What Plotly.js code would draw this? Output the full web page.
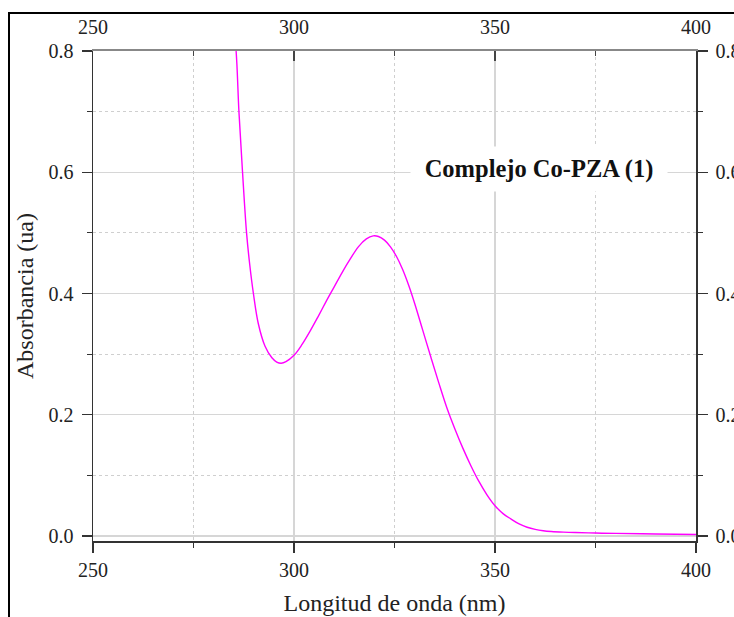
<!DOCTYPE html>
<html>
<head>
<meta charset="utf-8">
<script src="https://cdn.plot.ly/plotly-3.0.1.min.js"></script>
<style>
  html, body { margin: 0; padding: 0; background: #fff; }
  #chart { width: 734px; height: 617px; }
</style>
</head>
<body>
<div id="chart"></div>
<script>
// Wavelength (nm)
const wavelength = [284.8, 285.6, 286.3, 287.2, 288.2, 289.0, 289.9, 291.1, 292.8, 294.5, 295.7, 296.8, 298.0, 300.0, 302.0, 304.0, 306.0, 308.0, 310.0, 312.0, 314.0, 316.0, 318.0, 319.7, 321.0, 322.5, 324.0, 325.5, 327.0, 328.5, 330.0, 332.0, 334.0, 336.0, 338.0, 340.0, 342.0, 344.0, 346.0, 348.0, 350.0, 352.0, 354.0, 356.0, 358.0, 360.0, 362.0, 364.0, 367.0, 370.0, 375.0, 380.0, 390.0, 400.0];
// Absorbance (ua)
const absorbance = [0.85, 0.80, 0.70, 0.60, 0.50, 0.447, 0.40, 0.351, 0.313, 0.294, 0.287, 0.285, 0.2875, 0.298, 0.316, 0.338, 0.362, 0.387, 0.411, 0.435, 0.457, 0.477, 0.490, 0.495, 0.494, 0.488, 0.477, 0.461, 0.440, 0.414, 0.384, 0.340, 0.296, 0.253, 0.212, 0.177, 0.145, 0.116, 0.090, 0.068, 0.050, 0.037, 0.028, 0.020, 0.0145, 0.011, 0.0088, 0.0075, 0.0064, 0.0057, 0.0049, 0.0043, 0.0034, 0.0025];

const xTickVals = [250, 300, 350, 400];
const yTickVals = [0.0, 0.2, 0.4, 0.6, 0.8];
const yTickText = ["0.0", "0.2", "0.4", "0.6", "0.8"];
const xTitle = "Longitud de onda (nm)";
const yTitle = "Absorbancia (ua)";
const label = "Complejo Co-PZA (1)";

const W = 734, H = 617;
const M = {l: 93, r: 38, t: 51, b: 76};
const pw = W - M.l - M.r, ph = H - M.t - M.b;
const px = v => (v - M.l) / pw;
const py = v => (H - M.b - v) / ph;

const serif = '"Liberation Serif", "Times New Roman", serif';
const xRange = [250, 400];
const yRange = [-0.0082, 0.8];

const traces = [
  {x: wavelength, y: absorbance, type: 'scatter', mode: 'lines',
   line: {color: '#ff00ff', width: 1.4, shape: 'spline', smoothing: 1},
   hoverinfo: 'skip', showlegend: false},
  {x: wavelength, y: absorbance, xaxis: 'x2', yaxis: 'y', type: 'scatter', mode: 'lines',
   line: {width: 0}, opacity: 0, hoverinfo: 'skip', showlegend: false},
  {x: wavelength, y: absorbance, xaxis: 'x', yaxis: 'y2', type: 'scatter', mode: 'lines',
   line: {width: 0}, opacity: 0, hoverinfo: 'skip', showlegend: false}
];

const tickFont = {family: serif, size: 20, color: '#222'};

const layout = {
  width: W, height: H,
  margin: M,
  paper_bgcolor: '#fff', plot_bgcolor: '#fff',
  showlegend: false,
  xaxis: {
    range: xRange, tickvals: xTickVals, ticktext: xTickVals.map(String),
    showline: true, linecolor: '#333', linewidth: 1.5,
    ticks: 'outside', ticklen: 10, tickwidth: 1.3, tickcolor: '#333',
    showgrid: true, gridcolor: '#d6d6d6', gridwidth: 1.2, zeroline: false,
    minor: {dtick: 25, tick0: 250, ticks: 'outside', ticklen: 5, tickcolor: '#333', tickwidth: 1,
            showgrid: true, gridcolor: '#cfcfcf', griddash: 'dot', gridwidth: 1},
    tickfont: tickFont,
    title: {text: xTitle, font: {family: serif, size: 24, color: '#222'}, standoff: 14},
    fixedrange: true
  },
  xaxis2: {
    overlaying: 'x', side: 'top', anchor: 'y', range: xRange,
    tickvals: xTickVals, ticktext: xTickVals.map(String),
    showline: true, linecolor: '#888', linewidth: 2,
    ticks: 'inside', ticklen: 10, tickwidth: 1.5, tickcolor: '#444',
    minor: {dtick: 25, tick0: 250, ticks: 'inside', ticklen: 5, tickcolor: '#444', tickwidth: 1},
    showgrid: false, zeroline: false,
    tickfont: tickFont, ticklabelstandoff: 7,
    fixedrange: true
  },
  yaxis: {
    range: yRange, tickvals: yTickVals, ticktext: yTickText,
    showline: true, linecolor: '#333', linewidth: 1.5,
    ticks: 'outside', ticklen: 10, tickwidth: 1.3, tickcolor: '#333',
    showgrid: true, gridcolor: '#d6d6d6', gridwidth: 1.2, zeroline: false,
    minor: {dtick: 0.1, tick0: 0, ticks: 'outside', ticklen: 5, tickcolor: '#333', tickwidth: 1,
            showgrid: true, gridcolor: '#cfcfcf', griddash: 'dot', gridwidth: 1},
    tickfont: tickFont, ticklabelstandoff: 4,
    title: {text: yTitle, font: {family: serif, size: 24, color: '#222'}, standoff: 8},
    fixedrange: true
  },
  yaxis2: {
    overlaying: 'y', side: 'right', anchor: 'x', range: yRange,
    tickvals: yTickVals, ticktext: yTickText,
    showline: true, linecolor: '#333', linewidth: 1.5,
    ticks: 'outside', ticklen: 10, tickwidth: 1.3, tickcolor: '#333',
    minor: {dtick: 0.1, tick0: 0, ticks: 'outside', ticklen: 5, tickcolor: '#333', tickwidth: 1},
    showgrid: false, zeroline: false,
    tickfont: tickFont, ticklabelstandoff: 4,
    fixedrange: true
  },
  annotations: [{
    text: '<b>' + label + '</b>', xref: 'x', yref: 'y', x: 360.9, y: 0.605,
    showarrow: false, bgcolor: '#fff', borderpad: 8, width: 240, height: 28,
    font: {family: serif, size: 24.5, color: '#111'}
  }],
  shapes: [
    {type: 'line', xref: 'paper', yref: 'paper', x0: px(9), x1: px(9), y0: py(13), y1: py(640),
     line: {color: '#000', width: 2}},
    {type: 'line', xref: 'paper', yref: 'paper', x0: px(8), x1: px(760), y0: py(13), y1: py(13),
     line: {color: '#000', width: 2}}
  ]
};

Plotly.newPlot('chart', traces, layout, {displayModeBar: false, staticPlot: true});
</script>
</body>
</html>
